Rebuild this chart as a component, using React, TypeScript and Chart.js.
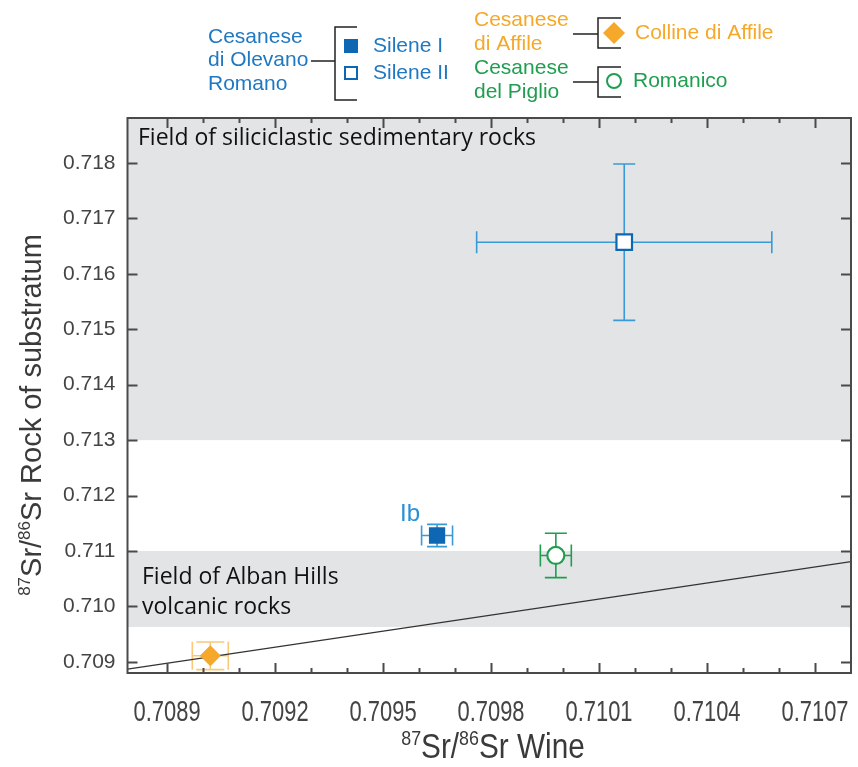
import React, { useEffect, useRef } from 'react';
import { Chart, registerables } from 'chart.js';

Chart.register(...registerables);

// ---- data ----
const seriesNames = ['Silene I', 'Silene II', 'Colline di Affile', 'Romanico'];
const pointX = [0.70965, 0.71017, 0.70902, 0.70998];
const pointY = [0.71128, 0.71657, 0.70911, 0.71092];
const errX = [0.000043, 0.00041, 0.00005, 0.000043];
const errY = [0.0002, 0.00141, 0.00025, 0.0004];

const refLineX = [0.70879, 0.7108];
const refLineY = [0.70887, 0.71081];

const siliciclasticBand = [0.713, 0.71881];
const albanBand = [0.70963, 0.711];

const xRange = [0.70879, 0.7108];
const yRange = [0.7088, 0.71881];
const xMajorTicks = [0.7089, 0.7092, 0.7095, 0.7098, 0.7101, 0.7104, 0.7107];
const xMinorTicks = [0.709, 0.7091, 0.7093, 0.7094, 0.7096, 0.7097, 0.7099, 0.71, 0.7102, 0.7103, 0.7105, 0.7106];
const yTicks = [0.709, 0.71, 0.711, 0.712, 0.713, 0.714, 0.715, 0.716, 0.717, 0.718];

// ---- styles ----
const BLUE_TEXT = '#1f78c1';
const BLUE_DARK = '#0d67b3';
const BLUE_ERR = '#3a9ad8';
const ORANGE = '#f5a82a';
const ORANGE_ERR = '#f9c979';
const GREEN = '#1f9e50';
const BAND = '#e3e4e6';
const AXIS = '#4a4a4a';
const SANS = '"Liberation Sans", Arial, sans-serif';
const NOTE_FONT = '"Open Sans", Lato, sans-serif';

const errColors = [BLUE_ERR, BLUE_ERR, ORANGE_ERR, GREEN];
const errCaps = [20, 22, 28, 22];

type Part = { t: string; sup?: boolean };

function drawParts(ctx: CanvasRenderingContext2D, parts: Part[], x: number, y: number, family: string, size: number, supSize: number, rise: number, align: 'left' | 'center', sx = 1) {
  let total = 0;
  const widths = parts.map((p) => {
    ctx.font = `${p.sup ? supSize : size}px ${family}`;
    const w = ctx.measureText(p.t).width;
    total += w;
    return w;
  });
  ctx.save();
  ctx.translate(x, y);
  ctx.scale(sx, 1);
  let cx = align === 'center' ? -total / 2 : 0;
  ctx.textAlign = 'left';
  ctx.textBaseline = 'alphabetic';
  parts.forEach((p, i) => {
    ctx.font = `${p.sup ? supSize : size}px ${family}`;
    ctx.fillText(p.t, cx, p.sup ? -rise : 0);
    cx += widths[i];
  });
  ctx.restore();
}

const decorPlugin = {
  id: 'decor',
  beforeDatasetsDraw(chart: any) {
    const { ctx, chartArea } = chart;
    const xs = chart.scales.x;
    const ys = chart.scales.y;
    ctx.save();
    ctx.fillStyle = BAND;
    const bands = [siliciclasticBand, albanBand];
    bands.forEach((b) => {
      const top = Math.max(ys.getPixelForValue(b[1]), chartArea.top);
      const bot = ys.getPixelForValue(b[0]);
      ctx.fillRect(chartArea.left, top, chartArea.right - chartArea.left, bot - top);
    });
    // band notes
    ctx.fillStyle = '#111';
    ctx.font = `23px ${NOTE_FONT}`;
    ctx.textAlign = 'left';
    ctx.textBaseline = 'middle';
    ctx.fillText('Field of siliciclastic sedimentary rocks', 138, 138);
    ctx.fillText('Field of Alban Hills', 142, 577);
    ctx.fillText('volcanic rocks', 142, 607);
    // error bars
    ctx.lineWidth = 1.6;
    pointX.forEach((px, i) => {
      const cx = xs.getPixelForValue(px);
      const cy = ys.getPixelForValue(pointY[i]);
      const x1 = xs.getPixelForValue(px - errX[i]);
      const x2 = xs.getPixelForValue(px + errX[i]);
      const y1 = ys.getPixelForValue(pointY[i] + errY[i]);
      const y2 = ys.getPixelForValue(pointY[i] - errY[i]);
      const c = errCaps[i] / 2;
      ctx.strokeStyle = errColors[i];
      ctx.beginPath();
      ctx.moveTo(x1, cy); ctx.lineTo(x2, cy);
      ctx.moveTo(cx, y1); ctx.lineTo(cx, y2);
      ctx.moveTo(x1, cy - c); ctx.lineTo(x1, cy + c);
      ctx.moveTo(x2, cy - c); ctx.lineTo(x2, cy + c);
      ctx.moveTo(cx - c, y1); ctx.lineTo(cx + c, y1);
      ctx.moveTo(cx - c, y2); ctx.lineTo(cx + c, y2);
      ctx.stroke();
    });
    ctx.restore();
  },
  afterDraw(chart: any) {
    const { ctx, chartArea } = chart;
    const xs = chart.scales.x;
    const ys = chart.scales.y;
    const { left, right, top, bottom } = chartArea;
    ctx.save();
    ctx.strokeStyle = AXIS;
    ctx.lineWidth = 2;
    ctx.strokeRect(left, top, right - left, bottom - top);
    ctx.beginPath();
    xMajorTicks.forEach((v) => {
      const p = Math.round(xs.getPixelForValue(v)) + 0.5;
      ctx.moveTo(p, bottom); ctx.lineTo(p, bottom - 10);
      ctx.moveTo(p, top); ctx.lineTo(p, top + 10);
    });
    xMinorTicks.forEach((v) => {
      const p = Math.round(xs.getPixelForValue(v)) + 0.5;
      ctx.moveTo(p, bottom); ctx.lineTo(p, bottom - 5);
      ctx.moveTo(p, top); ctx.lineTo(p, top + 5);
    });
    yTicks.forEach((v) => {
      const p = Math.round(ys.getPixelForValue(v)) + 0.5;
      ctx.moveTo(left, p); ctx.lineTo(left + 10, p);
      ctx.moveTo(right, p); ctx.lineTo(right - 10, p);
    });
    ctx.stroke();

    // x tick labels (condensed face, placed by the x scale)
    ctx.fillStyle = '#444';
    xMajorTicks.forEach((v) => {
      const p = xs.getPixelForValue(v);
      drawParts(ctx, [{ t: v.toFixed(4) }], p, 721, SANS, 30, 18, 0, 'center', 0.73);
    });

    // "Ib" label
    ctx.fillStyle = '#2a8fd5';
    ctx.font = `24px ${SANS}`;
    ctx.textAlign = 'left';
    ctx.textBaseline = 'middle';
    ctx.fillText('Ib', 400, 514);

    // axis titles
    ctx.fillStyle = '#3a3a3a';
    drawParts(ctx, [{ t: '87', sup: true }, { t: 'Sr/' }, { t: '86', sup: true }, { t: 'Sr Wine' }], 493, 758, SANS, 35, 21, 13, 'center', 0.85);
    ctx.save();
    ctx.translate(41, 415);
    ctx.rotate(-Math.PI / 2);
    drawParts(ctx, [{ t: '87', sup: true }, { t: 'Sr/' }, { t: '86', sup: true }, { t: 'Sr Rock of substratum' }], 0, 0, SANS, 29, 17, 11, 'center');
    ctx.restore();

    // legend
    ctx.font = `21px ${SANS}`;
    ctx.textAlign = 'left';
    ctx.textBaseline = 'middle';
    ctx.fillStyle = BLUE_TEXT;
    ctx.fillText('Cesanese', 208, 37);
    ctx.fillText('di Olevano', 208, 60);
    ctx.fillText('Romano', 208, 84);
    ctx.fillText(seriesNames[0], 373, 46);
    ctx.fillText(seriesNames[1], 373, 73);
    ctx.fillStyle = ORANGE;
    ctx.fillText('Cesanese', 474, 20);
    ctx.fillText('di Affile', 474, 44);
    ctx.fillText(seriesNames[2], 635, 33);
    ctx.fillStyle = GREEN;
    ctx.fillText('Cesanese', 474, 68);
    ctx.fillText('del Piglio', 474, 92);
    ctx.fillText(seriesNames[3], 633, 81);

    ctx.strokeStyle = '#222';
    ctx.lineWidth = 1.5;
    ctx.beginPath();
    ctx.moveTo(311, 61); ctx.lineTo(335, 61);
    ctx.moveTo(357, 27); ctx.lineTo(335, 27); ctx.lineTo(335, 100); ctx.lineTo(357, 100);
    ctx.moveTo(573, 34); ctx.lineTo(598, 34);
    ctx.moveTo(621, 18); ctx.lineTo(598, 18); ctx.lineTo(598, 48); ctx.lineTo(621, 48);
    ctx.moveTo(573, 82); ctx.lineTo(598, 82);
    ctx.moveTo(621, 67); ctx.lineTo(598, 67); ctx.lineTo(598, 97); ctx.lineTo(621, 97);
    ctx.stroke();

    // legend markers
    ctx.fillStyle = BLUE_DARK;
    ctx.fillRect(344, 39, 14, 14);
    ctx.strokeStyle = BLUE_DARK;
    ctx.lineWidth = 2;
    ctx.strokeRect(345, 67, 12, 12);
    ctx.fillStyle = ORANGE;
    ctx.beginPath();
    ctx.moveTo(614, 22); ctx.lineTo(625, 33); ctx.lineTo(614, 44); ctx.lineTo(603, 33);
    ctx.closePath();
    ctx.fill();
    ctx.strokeStyle = GREEN;
    ctx.beginPath();
    ctx.arc(614, 81, 7, 0, Math.PI * 2);
    ctx.stroke();
    ctx.restore();
  },
};

export default function App() {
  const ref = useRef<HTMLCanvasElement | null>(null);
  useEffect(() => {
    document.body.style.margin = '0';
    const canvas = ref.current;
    if (!canvas) return;
    const markerStyles = ['rect', 'rect', 'rectRot', 'circle'];
    const markerRadius = [11.5, 11, 10.5, 8.5];
    const markerFill = [BLUE_DARK, '#ffffff', ORANGE, '#ffffff'];
    const markerBorder = [BLUE_DARK, BLUE_DARK, ORANGE, GREEN];
    const chart = new Chart(canvas, {
      type: 'scatter',
      data: {
        datasets: [
          {
            label: 'ref',
            data: refLineX.map((x, i) => ({ x, y: refLineY[i] })),
            showLine: true,
            borderColor: '#333',
            borderWidth: 1.3,
            pointRadius: 0,
            order: 2,
          } as any,
          ...seriesNames.map((name, i) => ({
            label: name,
            data: [{ x: pointX[i], y: pointY[i] }],
            pointStyle: markerStyles[i],
            pointRadius: markerRadius[i],
            backgroundColor: markerFill[i],
            borderColor: markerBorder[i],
            borderWidth: i === 0 || i === 2 ? 0 : 2.2,
            order: 1,
          })),
        ],
      },
      options: {
        animation: false,
        responsive: false,
        devicePixelRatio: 1,
        layout: { autoPadding: false, padding: { left: 0, top: 118, right: 7, bottom: 0 } },
        plugins: { legend: { display: false }, tooltip: { enabled: false } },
        scales: {
          x: {
            type: 'linear',
            min: xRange[0],
            max: xRange[1],
            grid: { display: false, drawTicks: false },
            border: { display: false },
            afterBuildTicks: (s: any) => { s.ticks = xMajorTicks.map((v) => ({ value: v })); },
            afterFit: (s: any) => { s.height = 94; s.paddingLeft = 0; s.paddingRight = 0; },
            ticks: { display: false },
          },
          y: {
            type: 'linear',
            min: yRange[0],
            max: yRange[1],
            grid: { display: false, drawTicks: false },
            border: { display: false },
            afterBuildTicks: (s: any) => { s.ticks = yTicks.map((v) => ({ value: v })); },
            afterFit: (s: any) => { s.width = 127.5; s.paddingTop = 0; s.paddingBottom = 0; },
            ticks: {
              padding: 12,
              color: '#444',
              font: { family: SANS, size: 21 },
              autoSkip: false,
              callback: (v: any) => Number(v).toFixed(3),
            },
          },
        },
      },
      plugins: [decorPlugin],
    });
    return () => chart.destroy();
  }, []);
  return (
    <div style={{ width: 858, height: 767 }}>
      <canvas ref={ref} width={858} height={767} style={{ display: 'block' }} />
    </div>
  );
}
